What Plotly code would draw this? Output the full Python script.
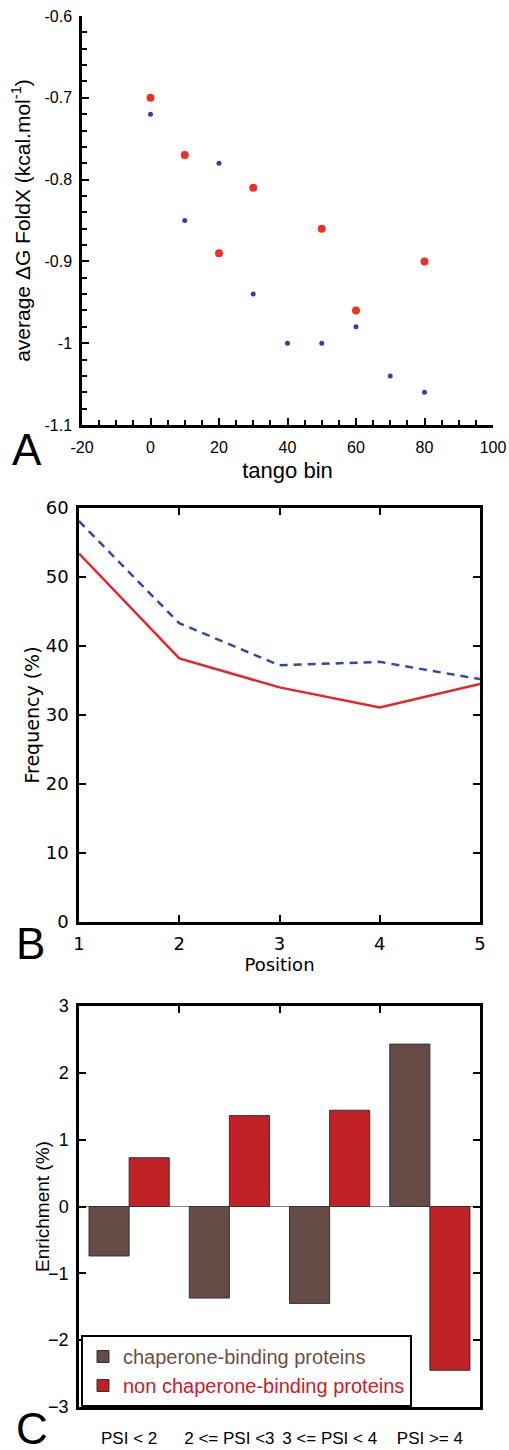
import plotly.graph_objects as go

# ---------------- Panel A data ----------------
a_red_x = [0, 10, 20, 30, 50, 60, 80]
a_red_y = [-0.70, -0.77, -0.89, -0.81, -0.86, -0.96, -0.90]
a_blue_x = [0, 10, 20, 30, 40, 50, 60, 70, 80]
a_blue_y = [-0.72, -0.85, -0.78, -0.94, -1.00, -1.00, -0.98, -1.04, -1.06]
a_xticks = [-20, 0, 20, 40, 60, 80, 100]
a_xtext = ["-20", "0", "20", "40", "60", "80", "100"]
a_yticks = [-1.1, -1.0, -0.9, -0.8, -0.7, -0.6]
a_ytext = ["-1.1", "-1", "-0.9", "-0.8", "-0.7", "-0.6"]

# ---------------- Panel B data ----------------
b_pos = [1, 2, 3, 4, 5]
b_blue = [58.1, 43.3, 37.2, 37.7, 35.2]
b_red = [53.4, 38.2, 34.0, 31.1, 34.5]

# ---------------- Panel C data ----------------
c_groups = ["PSI < 2", "2 <= PSI <3", "3 <= PSI < 4", "PSI >= 4"]
c_group_pos = [0.5, 1.5, 2.5, 3.5]
c_chap = [-0.74, -1.37, -1.45, 2.43]
c_nonchap = [0.73, 1.36, 1.44, -2.45]
c_names = ["chaperone-binding proteins", "non chaperone-binding proteins"]

W, H = 509, 1450
def px(x):
    return x / W
def py(y):
    return (H - y) / H

fig = go.Figure()

# Panel A
fig.add_trace(go.Scatter(x=a_blue_x, y=a_blue_y, mode="markers",
                         marker=dict(color="#2e4595", size=5),
                         showlegend=False, xaxis="x", yaxis="y"))
fig.add_trace(go.Scatter(x=a_red_x, y=a_red_y, mode="markers",
                         marker=dict(color="#ee3124", size=8),
                         showlegend=False, xaxis="x", yaxis="y"))

# Panel B
fig.add_trace(go.Scatter(x=b_pos, y=b_blue, mode="lines",
                         line=dict(color="#3249a0", width=2.5, dash="8px,6px"),
                         showlegend=False, xaxis="x2", yaxis="y2"))
fig.add_trace(go.Scatter(x=b_pos, y=b_red, mode="lines",
                         line=dict(color="#e52529", width=2.5),
                         showlegend=False, xaxis="x2", yaxis="y2"))

# Panel C
fig.add_trace(go.Bar(x=c_group_pos, y=c_chap,
                     name='<span style="color:#6b5048">' + c_names[0] + '</span>',
                     marker=dict(color="#654b45", line=dict(color="#333333", width=1)),
                     xaxis="x3", yaxis="y3"))
fig.add_trace(go.Bar(x=c_group_pos, y=c_nonchap,
                     name='<span style="color:#c8202a">' + c_names[1] + '</span>',
                     marker=dict(color="#c02127", line=dict(color="#333333", width=1)),
                     xaxis="x3", yaxis="y3"))

fontA = "Liberation Sans, Arial, sans-serif"
fontB = "DejaVu Sans, sans-serif"
fontC = "Liberation Sans, Arial, sans-serif"

fig.update_layout(
    template="none",
    width=W, height=H,
    margin=dict(l=0, r=0, t=0, b=0, autoexpand=False),
    paper_bgcolor="white", plot_bgcolor="white",
    barmode="group", bargap=0.2, bargroupgap=0,
    showlegend=True,
    legend=dict(x=px(81), y=py(1335), xanchor="left", yanchor="top",
                bordercolor="black", borderwidth=2, bgcolor="white",
                font=dict(family=fontC, size=20, color="#6b5048"),
                tracegroupgap=0),
    # ---- A ----
    xaxis=dict(domain=[px(82), px(493)], anchor="y", range=[-20, 100], automargin=False,
               showline=True, linecolor="black", linewidth=2.5,
               showgrid=False, zeroline=False,
               tickmode="array", tickvals=a_xticks, ticktext=a_xtext,
               ticks="inside", ticklen=7, tickwidth=2, tickcolor="black",
               minor=dict(tickmode="linear", tick0=0, dtick=5, ticks="inside",
                          ticklen=5, tickwidth=2, tickcolor="black", showgrid=False),
               tickfont=dict(family=fontA, size=16, color="black"),
               ticklabelstandoff=6,
               title=dict(text="tango bin", font=dict(family=fontA, size=22, color="black"),
                          standoff=8)),
    yaxis=dict(domain=[py(425), py(16)], anchor="x", range=[-1.1, -0.6], automargin=False,
               showline=True, linecolor="black", linewidth=2.5,
               showgrid=False, zeroline=False,
               tickmode="array", tickvals=a_yticks, ticktext=a_ytext,
               ticks="inside", ticklen=7, tickwidth=2, tickcolor="black",
               minor=dict(tickmode="linear", tick0=-0.6, dtick=0.02, ticks="inside",
                          ticklen=5, tickwidth=2, tickcolor="black", showgrid=False),
               tickfont=dict(family=fontA, size=16, color="black"),
               ticklabelstandoff=4,
               title=dict(text="average \u0394G FoldX (kcal.mol<sup>-1</sup>)",
                          font=dict(family=fontA, size=21, color="black"),
                          standoff=9)),
    # ---- B ----
    xaxis2=dict(domain=[px(79), px(480)], anchor="y2", range=[1, 5], automargin=False,
                showline=True, linecolor="black", linewidth=2.5, mirror="ticks",
                showgrid=False, zeroline=False,
                tickmode="linear", tick0=1, dtick=1,
                ticks="inside", ticklen=7, tickwidth=2, tickcolor="black",
                tickfont=dict(family=fontB, size=18, color="black"),
                ticklabelstandoff=4,
                title=dict(text="Position", font=dict(family=fontB, size=18, color="black"),
                           standoff=2)),
    yaxis2=dict(domain=[py(922), py(508)], anchor="x2", range=[0, 60], automargin=False,
                showline=True, linecolor="black", linewidth=2.5, mirror="ticks",
                showgrid=False, zeroline=False,
                tickmode="linear", tick0=0, dtick=10,
                ticks="inside", ticklen=7, tickwidth=2, tickcolor="black",
                tickfont=dict(family=fontB, size=18, color="black"),
                ticklabelstandoff=4,
                title=dict(text="Frequency (%)", font=dict(family=fontB, size=19, color="black"),
                           standoff=2)),
    # ---- C ----
    xaxis3=dict(domain=[px(79), px(480)], anchor="y3", range=[0, 4], automargin=False,
                showline=True, linecolor="black", linewidth=2.5, mirror="ticks",
                showgrid=False, zeroline=False,
                tickmode="array", tickvals=c_group_pos, ticktext=c_groups,
                ticks="",
                minor=dict(tickmode="array", tickvals=[1, 2, 3], ticks="inside",
                           ticklen=7, tickwidth=2, tickcolor="black", showgrid=False),
                tickfont=dict(family=fontC, size=17, color="black"),
                ticklabelstandoff=14),
    yaxis3=dict(domain=[py(1407), py(1006)], anchor="x3", range=[-3, 3], automargin=False,
                showline=True, linecolor="black", linewidth=2.5, mirror="ticks",
                showgrid=False, zeroline=True, zerolinecolor="#888888", zerolinewidth=1,
                tickmode="linear", tick0=0, dtick=1,
                ticks="inside", ticklen=7, tickwidth=2, tickcolor="black",
                tickfont=dict(family=fontC, size=18, color="black"),
                ticklabelstandoff=4),
)

# y title of panel C sits very close to the axis (between tick labels)
fig.add_annotation(text="Enrichment (%)", x=px(42), y=py(1207), xref="paper", yref="paper",
                   xanchor="center", yanchor="middle", textangle=-90, showarrow=False,
                   font=dict(family=fontC, size=19, color="black"))

for letter, xl, yl in [("A", 10, 476), ("B", 14, 970), ("C", 14, 1455)]:
    fig.add_annotation(text=letter, x=px(xl), y=py(yl), xref="paper", yref="paper",
                       xanchor="left", yanchor="bottom", showarrow=False,
                       font=dict(family="Liberation Sans, Arial, sans-serif", size=44, color="black"))

fig.write_html("out.html", config={"displayModeBar": False},
               post_script="document.body.style.margin='0px';document.body.style.overflow='hidden';")
